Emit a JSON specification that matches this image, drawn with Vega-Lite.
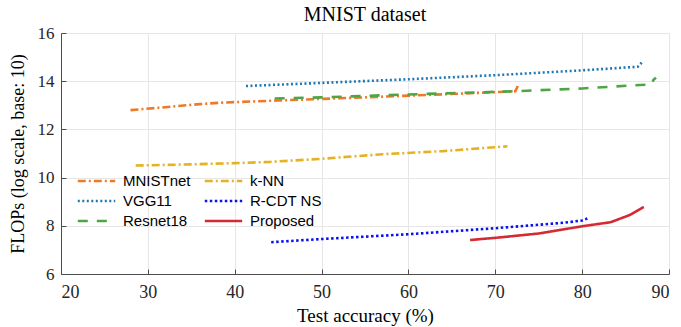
{
  "$schema": "https://vega.github.io/schema/vega-lite/v6.json",
  "width": 608,
  "height": 241,
  "autosize": {"type": "none"},
  "padding": {"left": 61, "top": 33, "right": 12, "bottom": 53},
  "background": "white",
  "title": {
    "text": "MNIST dataset",
    "font": "Liberation Serif",
    "fontSize": 20,
    "fontWeight": "normal",
    "color": "#000000",
    "offset": -1,
    "anchor": "middle"
  },
  "config": {
    "view": {"stroke": "#e3e3e3", "strokeWidth": 1},
    "axis": {
      "labelFont": "Liberation Serif",
      "titleFont": "Liberation Serif",
      "labelFontSize": 17,
      "titleFontSize": 18,
      "titleFontWeight": "normal",
      "labelColor": "#262626",
      "titleColor": "#000000",
      "domainColor": "#4d4d4d",
      "domainWidth": 1,
      "tickColor": "#4d4d4d",
      "tickSize": -5,
      "gridColor": "#e6e6e6",
      "gridWidth": 1
    }
  },
  "data": {
    "values": [
      {"series": "MNISTnet", "acc": 28.0, "flops": 12.8},
      {"series": "MNISTnet", "acc": 32.0, "flops": 12.92},
      {"series": "MNISTnet", "acc": 36.0, "flops": 13.05},
      {"series": "MNISTnet", "acc": 38.5, "flops": 13.11},
      {"series": "MNISTnet", "acc": 45.0, "flops": 13.2},
      {"series": "MNISTnet", "acc": 55.0, "flops": 13.33},
      {"series": "MNISTnet", "acc": 65.0, "flops": 13.47},
      {"series": "MNISTnet", "acc": 72.3, "flops": 13.58},
      {"series": "MNISTnet", "acc": 72.6, "flops": 13.8},
      {"series": "k-NN", "acc": 28.6, "flops": 10.5},
      {"series": "k-NN", "acc": 35.0, "flops": 10.55},
      {"series": "k-NN", "acc": 40.0, "flops": 10.6},
      {"series": "k-NN", "acc": 44.0, "flops": 10.65},
      {"series": "k-NN", "acc": 50.0, "flops": 10.78},
      {"series": "k-NN", "acc": 57.0, "flops": 10.97},
      {"series": "k-NN", "acc": 64.0, "flops": 11.1},
      {"series": "k-NN", "acc": 71.4, "flops": 11.3},
      {"series": "VGG11", "acc": 41.3, "flops": 13.8},
      {"series": "VGG11", "acc": 50.0, "flops": 13.93},
      {"series": "VGG11", "acc": 60.0, "flops": 14.08},
      {"series": "VGG11", "acc": 70.0, "flops": 14.25},
      {"series": "VGG11", "acc": 80.0, "flops": 14.45},
      {"series": "VGG11", "acc": 86.4, "flops": 14.6},
      {"series": "VGG11", "acc": 86.85, "flops": 14.77},
      {"series": "R-CDT NS", "acc": 44.2, "flops": 7.32},
      {"series": "R-CDT NS", "acc": 50.0, "flops": 7.45},
      {"series": "R-CDT NS", "acc": 60.0, "flops": 7.65},
      {"series": "R-CDT NS", "acc": 70.0, "flops": 7.9},
      {"series": "R-CDT NS", "acc": 78.0, "flops": 8.13},
      {"series": "R-CDT NS", "acc": 80.0, "flops": 8.22},
      {"series": "R-CDT NS", "acc": 80.6, "flops": 8.3},
      {"series": "Resnet18", "acc": 44.6, "flops": 13.28},
      {"series": "Resnet18", "acc": 50.0, "flops": 13.33},
      {"series": "Resnet18", "acc": 60.0, "flops": 13.45},
      {"series": "Resnet18", "acc": 72.0, "flops": 13.58},
      {"series": "Resnet18", "acc": 80.0, "flops": 13.7},
      {"series": "Resnet18", "acc": 88.0, "flops": 13.87},
      {"series": "Resnet18", "acc": 88.2, "flops": 14.05},
      {"series": "Resnet18", "acc": 88.5, "flops": 14.15},
      {"series": "Proposed", "acc": 67.1, "flops": 7.41},
      {"series": "Proposed", "acc": 70.0, "flops": 7.5},
      {"series": "Proposed", "acc": 75.0, "flops": 7.68},
      {"series": "Proposed", "acc": 80.0, "flops": 7.98},
      {"series": "Proposed", "acc": 83.3, "flops": 8.15},
      {"series": "Proposed", "acc": 85.5, "flops": 8.45},
      {"series": "Proposed", "acc": 87.1, "flops": 8.78}
    ]
  },
  "mark": {"type": "line", "strokeWidth": 2.6, "clip": true},
  "encoding": {
    "x": {
      "field": "acc",
      "type": "quantitative",
      "scale": {"domain": [20, 90], "nice": false, "zero": false},
      "axis": {
        "title": "Test accuracy (%)",
        "values": [20, 30, 40, 50, 60, 70, 80, 90],
        "labelFontSize": 18,
        "titleFontSize": 19,
        "labelPadding": 14,
        "titlePadding": 5
      }
    },
    "y": {
      "field": "flops",
      "type": "quantitative",
      "scale": {"domain": [6, 16], "nice": false, "zero": false},
      "axis": {
        "title": "FLOPs (log scale, base: 10)",
        "values": [6, 8, 10, 12, 14, 16],
        "labelPadding": 12,
        "titlePadding": 10
      }
    },
    "color": {
      "field": "series",
      "type": "nominal",
      "scale": {
        "domain": ["MNISTnet", "VGG11", "Resnet18", "k-NN", "R-CDT NS", "Proposed"],
        "range": ["#ef7a26", "#1f77b4", "#4ea544", "#e6b222", "#0a12f0", "#d42a33"]
      },
      "legend": {
        "title": null,
        "orient": "none",
        "legendX": 15,
        "legendY": 140,
        "columns": 2,
        "columnPadding": 12,
        "rowPadding": 4,
        "clipHeight": 16,
        "labelFont": "Liberation Sans",
        "labelFontSize": 15,
        "labelColor": "#000000",
        "symbolType": "stroke",
        "symbolSize": 1400,
        "symbolStrokeWidth": 2.6,
        "labelOffset": 6
      }
    },
    "strokeDash": {
      "field": "series",
      "type": "nominal",
      "scale": {
        "domain": ["MNISTnet", "VGG11", "Resnet18", "k-NN", "R-CDT NS", "Proposed"],
        "range": [[8, 3, 2, 3], [2, 2.5], [10, 9], [8, 3, 2, 3], [2.5, 2.5], [1, 0]]
      }
    }
  }
}
